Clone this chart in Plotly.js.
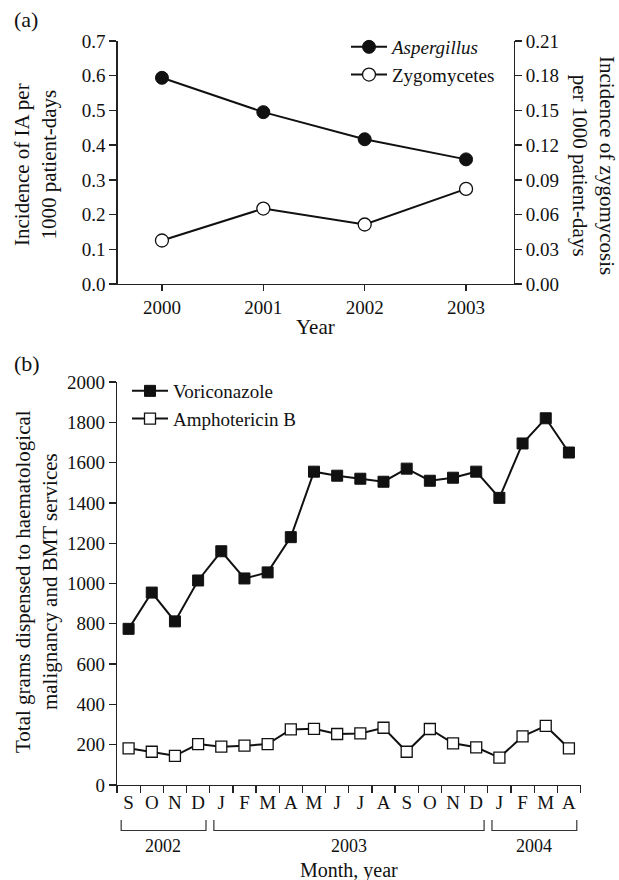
<!DOCTYPE html>
<html>
<head>
<meta charset="utf-8">
<script src="https://cdn.plot.ly/plotly-3.0.1.min.js"></script>
<style>html,body{margin:0;padding:0;background:#fff;}#chart{width:619px;height:880px;}</style>
</head>
<body>
<div id="chart"></div>
<script>
// Panel (a)
const years = [2000, 2001, 2002, 2003];
const aspergillus = [0.594, 0.495, 0.417, 0.359];
const zygomycetes = [0.0376, 0.0652, 0.0514, 0.0822];

// Panel (b)
const months = ['S','O','N','D','J','F','M','A','M','J','J','A','S','O','N','D','J','F','M','A'];
const monthYears = [2002,2002,2002,2002,2003,2003,2003,2003,2003,2003,2003,2003,2003,2003,2003,2003,2004,2004,2004,2004];
const voriconazole = [775, 955, 812, 1015, 1160, 1025, 1055, 1230, 1555, 1535, 1520, 1505, 1570, 1510, 1525, 1555, 1425, 1695, 1820, 1650];
const amphotericinB = [182, 165, 145, 203, 190, 195, 203, 276, 279, 253, 256, 284, 165, 278, 207, 187, 136, 241, 293, 182];

const W = 619, H = 880;
const px = v => v / W;
const py = v => 1 - v / H;
const FONT = 'Liberation Serif, Times New Roman, serif';
const INK = '#111';
const TICK = 19, TITLE = 21;

const idx = months.map((m, i) => i);
const boundaries = months.map((m, i) => i - 0.5).concat([months.length - 0.5]);

const traces = [
  {x: years, y: aspergillus, xaxis: 'x', yaxis: 'y', name: '<i>Aspergillus</i>', mode: 'lines+markers',
   line: {color: INK, width: 2}, marker: {symbol: 'circle', size: 13, color: INK, line: {color: INK, width: 1}},
   legend: 'legend'},
  {x: years, y: zygomycetes, xaxis: 'x', yaxis: 'y2', name: 'Zygomycetes', mode: 'lines+markers',
   line: {color: INK, width: 2}, marker: {symbol: 'circle', size: 13, color: '#fff', line: {color: INK, width: 1.3}},
   legend: 'legend'},
  {x: idx, y: voriconazole, xaxis: 'x2', yaxis: 'y3', name: 'Voriconazole', mode: 'lines+markers',
   line: {color: INK, width: 2}, marker: {symbol: 'square', size: 11, color: INK, line: {color: INK, width: 1}},
   legend: 'legend2'},
  {x: idx, y: amphotericinB, xaxis: 'x2', yaxis: 'y3', name: 'Amphotericin B', mode: 'lines+markers',
   line: {color: INK, width: 2}, marker: {symbol: 'square', size: 11, color: '#fff', line: {color: INK, width: 1.3}},
   legend: 'legend2'},
  {x: [boundaries[0]], y: [0], xaxis: 'x3', yaxis: 'y3', mode: 'markers', marker: {opacity: 0},
   showlegend: false, hoverinfo: 'skip'}
];

const axCommon = {
  showgrid: false, zeroline: false, showline: true, linecolor: '#222', linewidth: 1.3,
  ticks: 'outside', ticklen: 7, tickwidth: 1.3, tickcolor: '#222',
  tickfont: {family: FONT, size: TICK, color: INK}, fixedrange: true
};

// year brackets
const shapes = [];
const annotations = [];
[...new Set(monthYears)].forEach(yr => {
  const first = monthYears.indexOf(yr);
  const last = monthYears.lastIndexOf(yr);
  const x0 = first - 0.32, x1 = last + 0.34;
  shapes.push({type: 'path', xref: 'x2', yref: 'paper',
    path: `M ${x0} ${py(820)} L ${x0} ${py(830.5)} L ${x1} ${py(830.5)} L ${x1} ${py(820)}`,
    line: {color: '#333', width: 1.2}});
  annotations.push({xref: 'x2', yref: 'paper', x: (first + last) / 2, y: py(846), text: String(yr),
    showarrow: false, xanchor: 'center', yanchor: 'middle', font: {family: FONT, size: 18, color: INK}});
});

annotations.push(
  {xref: 'paper', yref: 'paper', x: px(12), y: py(20), text: '(a)', showarrow: false, xanchor: 'left', yanchor: 'middle',
   font: {family: FONT, size: 22, color: INK}},
  {xref: 'paper', yref: 'paper', x: px(12), y: py(364), text: '(b)', showarrow: false, xanchor: 'left', yanchor: 'middle',
   font: {family: FONT, size: 22, color: INK}},
  {xref: 'paper', yref: 'paper', x: px(315), y: py(327), text: 'Year', showarrow: false, xanchor: 'center', yanchor: 'middle',
   font: {family: FONT, size: TITLE, color: INK}},
  {xref: 'paper', yref: 'paper', x: px(35), y: py(165), text: 'Incidence of IA per<br>1000 patient-days', showarrow: false,
   textangle: -90, xanchor: 'center', yanchor: 'middle', font: {family: FONT, size: TITLE, color: INK}},
  {xref: 'paper', yref: 'paper', x: px(594), y: py(165), text: 'Incidence of zygomycosis<br>per 1000 patient-days', showarrow: false,
   textangle: 90, xanchor: 'center', yanchor: 'middle', font: {family: FONT, size: TITLE, color: INK}},
  {xref: 'paper', yref: 'paper', x: px(36), y: py(582), text: 'Total grams dispensed to haematological<br>malignancy and BMT services', showarrow: false,
   textangle: -90, xanchor: 'center', yanchor: 'middle', font: {family: FONT, size: TITLE, color: INK}},
  {xref: 'paper', yref: 'paper', x: px(349), y: py(870), text: 'Month, year', showarrow: false, xanchor: 'center', yanchor: 'middle',
   font: {family: FONT, size: 20, color: INK}}
);

const layout = {
  width: W, height: H,
  margin: {l: 0, r: 0, t: 0, b: 0},
  paper_bgcolor: '#fff', plot_bgcolor: '#fff',
  font: {family: FONT, size: TICK, color: INK},
  xaxis: Object.assign({}, axCommon, {domain: [px(117.6), px(513.7)], anchor: 'y', range: [1999.5625, 2003.47],
    tickvals: years, ticktext: years.map(String), ticklen: 6}),
  yaxis: Object.assign({}, axCommon, {domain: [py(284), py(41)], anchor: 'x', range: [0, 0.7], dtick: 0.1, tick0: 0,
    tickformat: '.1f'}),
  yaxis2: Object.assign({}, axCommon, {overlaying: 'y', side: 'right', anchor: 'x', range: [0, 0.21], dtick: 0.03, tick0: 0,
    tickformat: '.2f'}),
  xaxis2: Object.assign({}, axCommon, {domain: [px(117), px(580.5)], anchor: 'y3', range: [-0.5, months.length - 0.5],
    tickvals: idx, ticktext: months, ticks: '', showline: true}),
  xaxis3: Object.assign({}, axCommon, {overlaying: 'x2', anchor: 'y3', range: [-0.5, months.length - 0.5],
    tickvals: boundaries, showticklabels: false, showline: false}),
  yaxis3: Object.assign({}, axCommon, {domain: [py(785), py(382)], anchor: 'x2', range: [0, 2000], dtick: 200, tick0: 0}),
  legend: {x: px(346), y: py(28), xanchor: 'left', yanchor: 'top', bgcolor: 'rgba(0,0,0,0)',
    font: {family: FONT, size: 19, color: INK}, itemwidth: 36},
  legend2: {x: px(127), y: py(372), xanchor: 'left', yanchor: 'top', bgcolor: 'rgba(0,0,0,0)',
    font: {family: FONT, size: 19, color: INK}, itemwidth: 36},
  shapes: shapes,
  annotations: annotations,
  showlegend: true
};

Plotly.newPlot('chart', traces, layout, {staticPlot: true, displayModeBar: false});
</script>
</body>
</html>
